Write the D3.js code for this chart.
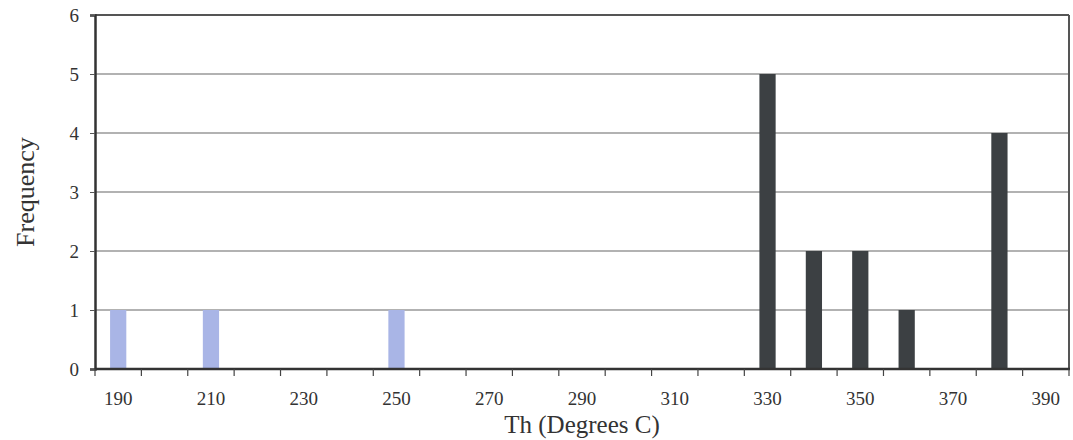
<!DOCTYPE html>
<html><head><meta charset="utf-8">
<script src="https://cdn.jsdelivr.net/npm/d3@7"></script>
<style>body{margin:0;background:#fff}svg{display:block}text{font-family:"Liberation Serif","Times New Roman",serif;fill:#333}</style>
</head><body>
<svg id="c" width="1073" height="440"></svg>
<script>
const categories = [190,200,210,220,230,240,250,260,270,280,290,300,310,320,330,340,350,360,370,380,390];
const lowSeries  = [1,0,1,0,0,0,1,0,0,0,0,0,0,0,0,0,0,0,0,0,0];
const highSeries = [0,0,0,0,0,0,0,0,0,0,0,0,0,0,5,2,2,1,0,4,0];
const yTicks = [0,1,2,3,4,5,6];
const xLabels = [190,210,230,250,270,290,310,330,350,370,390];

const svg = d3.select("#c");
const L=95, R=1069, T=15, B=369;
const x = d3.scaleBand().domain(categories).range([L,R]).padding(0);
const y = d3.scaleLinear().domain([0,6]).range([B,T]);

// gridlines
svg.append("g").selectAll("line").data(yTicks.filter(d=>d>0&&d<6)).join("line")
  .attr("x1",L).attr("x2",R).attr("y1",d=>y(d)).attr("y2",d=>y(d))
  .attr("stroke","#666").attr("stroke-width",1.2);

// bars
const bw = x.bandwidth()*0.35;
function drawBars(vals, color){
  svg.append("g").selectAll("rect").data(categories.map((c,i)=>({c,v:vals[i]})).filter(d=>d.v>0)).join("rect")
    .attr("x",d=>x(d.c)+x.bandwidth()/2-bw/2).attr("width",bw)
    .attr("y",d=>y(d.v)).attr("height",d=>y(0)-y(d.v))
    .attr("fill",color);
}
drawBars(lowSeries,"#a9b5e6");
drawBars(highSeries,"#3c4043");

// frame top/right
svg.append("line").attr("x1",L).attr("x2",R).attr("y1",T).attr("y2",T).attr("stroke","#555").attr("stroke-width",2);
svg.append("line").attr("x1",R).attr("x2",R).attr("y1",T).attr("y2",B).attr("stroke","#555").attr("stroke-width",2);

// y axis
const ya = svg.append("g").attr("transform",`translate(${L},0)`)
  .call(d3.axisLeft(y).tickValues(yTicks).tickSize(5).tickPadding(11).tickFormat(d3.format("d")));
ya.select(".domain").attr("stroke","#333").attr("stroke-width",2.5);
ya.selectAll(".tick line").attr("stroke","#555");
ya.selectAll("text").style("font-size","19px").attr("fill","#333");

// x axis: ticks at band boundaries
const xa = svg.append("g").attr("transform",`translate(0,${B})`);
xa.append("line").attr("x1",L).attr("x2",R+1).attr("stroke","#333").attr("stroke-width",2.5);
const bounds = categories.map(c=>x(c)).concat([R]);
xa.selectAll("line.tk").data(bounds).join("line").attr("class","tk")
  .attr("x1",d=>d).attr("x2",d=>d).attr("y1",0).attr("y2",7).attr("stroke","#444").attr("stroke-width",1.2);
xa.selectAll("text").data(xLabels).join("text")
  .attr("x",d=>x(d)+x.bandwidth()/2).attr("y",36).attr("text-anchor","middle")
  .style("font-size","19px").text(d=>d);

// titles
svg.append("text").attr("x",(L+R)/2).attr("y",433).attr("text-anchor","middle")
  .style("font-size","25px").text("Th (Degrees C)");
svg.append("text").attr("transform",`translate(34,${(T+B)/2}) rotate(-90)`).attr("text-anchor","middle")
  .style("font-size","26px").text("Frequency");
</script>
</body></html>
